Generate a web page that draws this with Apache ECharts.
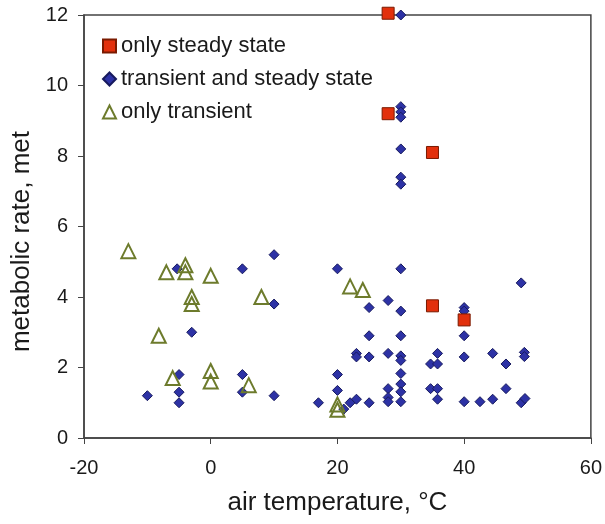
<!DOCTYPE html>
<html>
<head>
<meta charset="utf-8">
<script src="https://cdn.jsdelivr.net/npm/echarts@6/dist/echarts.min.js"></script>
<style>
  html, body { margin: 0; padding: 0; background: #fff; }
  #main { width: 605px; height: 524px; }
</style>
</head>
<body>
<div id="main"></div>
<script>
// only steady state (red squares)
var steadyX = [28, 28, 35, 35, 40];
var steadyY = [12.05, 9.2, 8.1, 3.75, 3.35];

// transient and steady state (blue diamonds)
var bothX = [-10, -5.3, -3, -5, -5, -5, 5, 5, 5, 10, 10, 10,
  17, 20, 20, 20, 21, 22, 23, 23, 23, 25, 25, 25, 25,
  28, 28, 28, 28, 28,
  30, 30, 30, 30, 30, 30, 30, 30, 30, 30, 30, 30, 30, 30, 30, 30,
  34.7, 34.7, 35.8, 35.8, 35.8, 35.8,
  40, 40, 40, 40, 40, 42.5, 44.5, 44.5, 46.6, 46.6,
  49, 49.5, 49.5, 49, 49.6];
var bothY = [1.2, 4.8, 3.0, 1.8, 1.3, 1.0, 4.8, 1.8, 1.3, 5.2, 3.8, 1.2,
  1.0, 4.8, 1.8, 1.35, 0.82, 1.0, 1.1, 2.4, 2.3, 3.7, 2.9, 2.3, 1.0,
  3.9, 2.4, 1.4, 1.15, 1.03,
  12.0, 9.4, 9.25, 9.1, 8.2, 7.4, 7.2, 4.8, 3.6, 2.9, 2.33, 2.2, 1.83, 1.53, 1.31, 1.03,
  2.1, 1.4, 2.4, 2.1, 1.4, 1.1,
  3.7, 3.6, 2.9, 2.3, 1.03, 1.03, 2.4, 1.1, 2.1, 1.4,
  4.4, 2.43, 2.31, 1.0, 1.12];

// only transient (open triangles)
var transX = [-13, -7, -4, -4, 0, -3, -3, 8, -8.2, 0, 0, -6, 6, 22, 24, 20, 20];
var transY = [5.3, 4.7, 4.9, 4.7, 4.6, 4.0, 3.8, 4.0, 2.9, 1.9, 1.6, 1.7, 1.5, 4.3, 4.2, 0.95, 0.8];

var xTicks = { min: -20, max: 60, interval: 20 };
var yTicks = { min: 0, max: 12, interval: 2 };

function pairs(xs, ys) {
  return xs.map(function (x, i) { return [x, ys[i]]; });
}

var chart = echarts.init(document.getElementById('main'));
var font = 'Liberation Sans, Arial, sans-serif';
var ink = '#1a1a1a';
var frame = '#444';

chart.setOption({
  animation: false,
  textStyle: { fontFamily: font },
  grid: {
    left: 84, right: 12, top: 15, bottom: 86,
    show: true, borderColor: frame, borderWidth: 1.5
  },
  legend: {
    orient: 'vertical',
    left: 97, top: 30,
    itemWidth: 13, itemHeight: 13,
    itemGap: 11,
    textStyle: { fontSize: 22, lineHeight: 22, color: ink, fontFamily: font },
    data: ['only steady state', 'transient and steady state', 'only transient']
  },
  xAxis: {
    type: 'value',
    min: xTicks.min, max: xTicks.max, interval: xTicks.interval,
    name: 'air temperature, °C',
    nameLocation: 'middle',
    nameGap: 52,
    nameTextStyle: { fontSize: 26, color: ink },
    axisLine: { onZero: false, lineStyle: { color: frame, width: 1.5 } },
    axisTick: { show: true, length: 6, lineStyle: { color: frame } },
    axisLabel: { fontSize: 20, color: ink, margin: 20 },
    splitLine: { show: false }
  },
  yAxis: {
    type: 'value',
    min: yTicks.min, max: yTicks.max, interval: yTicks.interval,
    name: 'metabolic rate, met',
    nameLocation: 'middle',
    nameGap: 45,
    nameTextStyle: { fontSize: 26, color: ink, padding: [0, 30, 0, 0] },
    axisLine: { show: true, onZero: false, lineStyle: { color: frame, width: 1.5 } },
    axisTick: { show: true, length: 6, lineStyle: { color: frame } },
    axisLabel: { fontSize: 20, color: ink, margin: 16 },
    splitLine: { show: false }
  },
  series: [
    {
      name: 'only steady state',
      type: 'scatter',
      symbol: 'rect',
      symbolSize: 12,
      clip: false,
      z: 3,
      itemStyle: { color: '#e2300c', borderColor: '#7a1a00', borderWidth: 1, opacity: 1 },
      data: pairs(steadyX, steadyY)
    },
    {
      name: 'transient and steady state',
      type: 'scatter',
      symbol: 'diamond',
      symbolSize: 10,
      clip: false,
      z: 2,
      itemStyle: { color: '#2d32a5', borderColor: '#171a5e', borderWidth: 1, opacity: 1 },
      data: pairs(bothX, bothY)
    },
    {
      name: 'only transient',
      type: 'scatter',
      symbol: 'triangle',
      symbolSize: 14,
      clip: false,
      z: 4,
      itemStyle: { color: 'rgba(0,0,0,0)', borderColor: '#6d7b2c', borderWidth: 2, opacity: 1 },
      data: pairs(transX, transY)
    }
  ]
});
</script>
</body>
</html>
